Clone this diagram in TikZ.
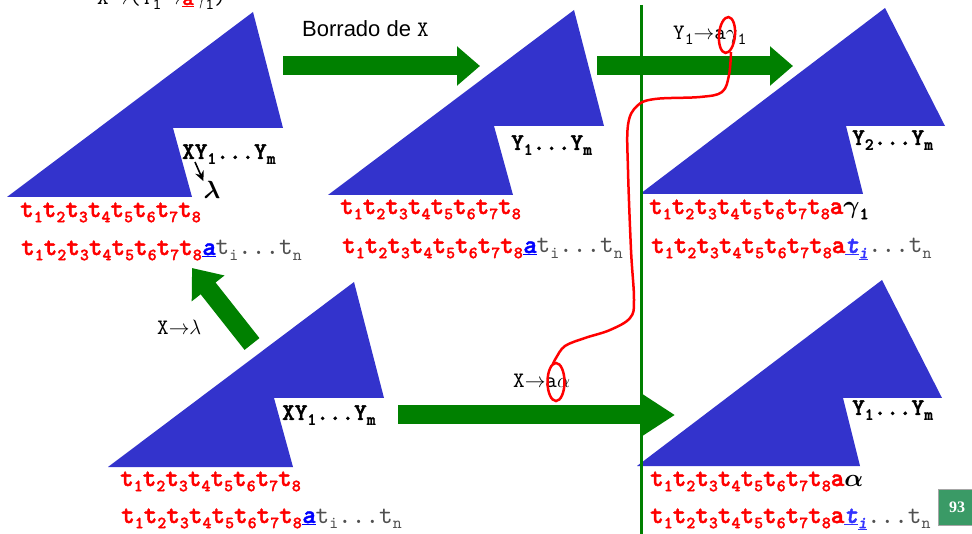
\documentclass[tikz,border=0pt]{standalone}
\usepackage{fontspec}
\setmainfont{Liberation Serif}
\setsansfont{Liberation Sans}
\setmonofont{lmmono10-regular}[Extension=.otf, ItalicFont=lmmono10-italic, BoldFont=lmmonolt10-bold, BoldItalicFont=lmmonolt10-boldoblique, BoldFeatures={FakeBold=1.6}, BoldItalicFeatures={FakeBold=1.6}]
\usepackage{tikz}
\usetikzlibrary{arrows.meta, positioning, calc}
\definecolor{treeblue}{HTML}{3333CC}
\definecolor{arrgreen}{HTML}{008000}
\definecolor{tokred}{HTML}{FF0000}
\definecolor{tokblue}{HTML}{0000FF}
\definecolor{tiblue}{HTML}{3333FF}
\definecolor{restgray}{HTML}{505050}
\definecolor{pagegreen}{HTML}{3A9A66}
\newcommand{\tsub}[1]{\raisebox{-0.2em}{\fontsize{17}{17}\selectfont #1}}
\newcommand{\teight}{t\tsub{1}t\tsub{2}t\tsub{3}t\tsub{4}t\tsub{5}t\tsub{6}t\tsub{7}t\tsub{8}}
\newcommand{\trest}{{\mdseries\color{restgray}t\tsub{i}...t\tsub{n}}}
\newcommand{\tdots}{{\mdseries\color{restgray}...t\tsub{n}}}
\tikzset{
  tree/.style={fill=treeblue, draw=none},
  bigarr/.style={draw=arrgreen, line width=19pt, -{Triangle[length=23pt, width=38pt]}},
  tlbl/.style={anchor=base west, inner sep=0pt, font=\fontsize{24}{24}\selectfont\ttfamily\bfseries},
  tks/.style={anchor=base west, inner sep=0pt, text=tokred, font=\fontsize{26}{26}\selectfont\ttfamily\bfseries},
  prodlbl/.style={anchor=base west, inner sep=0pt, font=\fontsize{22}{22}\selectfont\ttfamily},
  circ/.style={draw=tokred, line width=2.5pt},
}

\begin{document}
\begin{tikzpicture}[x=1pt, y=-1pt]
  \useasboundingbox (0,0) rectangle (972,534);

  % trees
  \fill[tree] (7,197) -- ++(246,-185) -- ++(30,116) -- ++(-110,0) -- ++(19,69) -- cycle;
  \fill[tree] (328,195) -- ++(246,-185) -- ++(30,116) -- ++(-110,0) -- ++(19,69) -- cycle;
  \fill[tree] (108,467) -- ++(246,-185) -- ++(30,116) -- ++(-110,0) -- ++(19,69) -- cycle;
  \fill[tree] (640,194) -- ++(245,-186) -- ++(60,118) -- ++(-99,0) -- ++(17,68) -- cycle;
  \fill[tree] (637,466) -- ++(245,-186) -- ++(60,118) -- ++(-99,0) -- ++(17,68) -- cycle;

  % tree labels
  \node[tlbl] (lblA) at (182,159) {XY\tsub{1}...Y\tsub{m}};
  \node[tlbl] (lblB) at (511,150) {Y\tsub{1}...Y\tsub{m}};
  \node[tlbl] (lblC) at (852,145) {Y\tsub{2}...Y\tsub{m}};
  \node[tlbl] (lblD) at (282,420) {XY\tsub{1}...Y\tsub{m}};
  \node[tlbl] (lblE) at (852,415) {Y\tsub{1}...Y\tsub{m}};

  \node[inner sep=0pt, font=\fontsize{26}{26}\selectfont\boldmath] (lam) at (212,190) {$\lambda$};
  \coordinate (lamarr) at (195,162);
  \draw[-{Stealth[length=10pt, width=9pt]}, line width=1.6pt] (lamarr) -- (lam.north west);

  % token rows
  \node[tks] (rowA1) at (20,217) {\teight};
  \node[tks] (rowB1) at (21,255) {\teight{\color{tokblue}\underline{\textit{a}}}\trest};
  \node[tks] (rowA2) at (340,214) {\teight};
  \node[tks] (rowB2) at (342,253) {\teight{\color{tokblue}\underline{\textit{a}}}\trest};
  \node[tks] (rowA3) at (649,214) {\teight a{\color{black}\boldmath$\gamma$\tsub{1}}};
  \node[tks] (rowB3) at (651,253) {\teight a{\color{tiblue}\underline{\textit{t}}\underline{\tsub{\textit{i}}}}\tdots};
  \node[tks] (rowA4) at (120,486) {\teight};
  \node[tks] (rowB4) at (121,523) {\teight{\color{tokblue}\underline{\textit{a}}}\trest};
  \node[tks] (rowA5) at (650,486) {\teight a{\color{black}\boldmath$\alpha$}};
  \node[tks] (rowB5) at (650,523) {\teight a{\color{tiblue}\underline{\textit{t}}\underline{\tsub{\textit{i}}}}\tdots};

  % productions
  \node[prodlbl] (ptop) at (97,5) {X$\mathord{\rightarrow}$(Y\tsub{1}$\mathord{\rightarrow}${\color{tokred}\underline{\textbf{a}}}$\gamma$\tsub{1})};
  \node[anchor=base west, inner sep=0pt, font=\fontsize{22}{22}\selectfont\sffamily] (del) at (302,37) {Borrado de {\ttfamily X}};
  \node[prodlbl] (pXl) at (157,335) {X$\mathord{\rightarrow}\lambda$};
  \node[prodlbl] (pXa) at (513,388) {X$\mathord{\rightarrow}$a$\alpha$};
  \node[prodlbl] (pYa) at (673,40) {Y\tsub{1}$\mathord{\rightarrow}$a$\gamma$\tsub{1}};

  % green arrows
  \coordinate (a1s) at (283,66);  \coordinate (a1e) at (480,66);
  \coordinate (a2s) at (597,66);  \coordinate (a2e) at (793,66);
  \coordinate (a3s) at (398,415); \coordinate (a3e) at (675,415);
  \coordinate (a4s) at (252,344); \coordinate (a4e) at (192,268);
  \draw[bigarr] (a1s) -- (a1e);
  \draw[bigarr] (a2s) -- (a2e);
  \draw[bigarr, -{Triangle[length=33pt, width=40pt]}] (a3s) -- (a3e);
  \draw[bigarr, -{Triangle[length=26pt, width=40pt]}] (a4s) -- (a4e);

  \coordinate (divtop) at (641,5);
  \coordinate (divbot) at (641,536);
  \draw[arrgreen, line width=3pt] (divtop) -- (divbot);

  % red marks
  \coordinate (topa) at (727,35);
  \coordinate (bota) at (556,382);
  \draw[circ, rotate around={-5:(topa)}] (topa) ellipse [x radius=8, y radius=18];
  \draw[circ] (bota) ellipse [x radius=8.5, y radius=19];
  \draw[circ] plot[smooth, tension=0.6] coordinates {(731,52) (729,75) (722,92) (700,97) (655,99) (637,106) (628,125) (628,170) (631,250) (634,300) (630,318) (610,330) (585,338) (565,346) (556,358) (553,364)};

  \node[fill=pagegreen, draw=gray!70, line width=0.8pt, text=white, font=\fontsize{16}{16}\selectfont\bfseries, minimum width=38pt, minimum height=36pt, inner sep=0pt] (pg) at (957,507) {93};
\end{tikzpicture}
\end{document}
